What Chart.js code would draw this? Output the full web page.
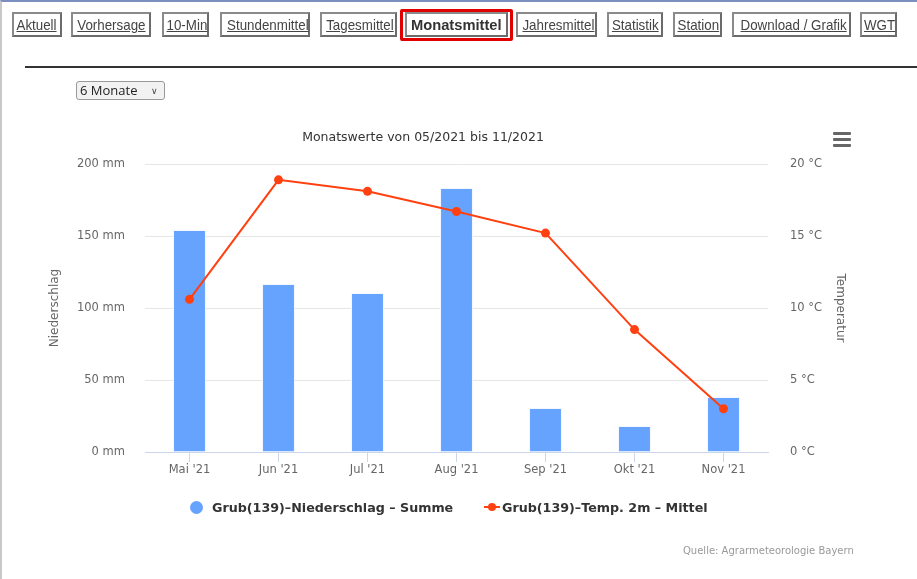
<!DOCTYPE html>
<html>
<head>
<meta charset="utf-8">
<script src="https://cdn.jsdelivr.net/npm/chart.js@4.4.0/dist/chart.umd.min.js"></script>
<style>
  html, body { margin: 0; padding: 0; background: #fff; }
  body { width: 917px; height: 579px; position: relative; overflow: hidden; }
  .frame { position: absolute; left: 0; top: 0; width: 917px; height: 579px;
           border-top: 2px solid #7a8fbf; border-left: 2px solid #c8c8c8; box-sizing: border-box; }
  .nav { position: absolute; top: 12px; height: 25px; box-sizing: border-box;
         border: 2px solid #6b6b6b; border-top-color: #8a8a8a; border-left-color: #8a8a8a;
         font: 15px "Liberation Sans", Arial, sans-serif; color: #444;
         text-align: center; line-height: 21px; white-space: nowrap; }
  .nav span { display: inline-block; text-decoration: underline; transform: scaleX(0.89); }
  .nav.active { font-weight: bold; color: #333; }
  .nav.active span { text-decoration: none; transform: scaleX(0.98); }
  .hl { position: absolute; left: 400px; top: 9px; width: 113px; height: 32px; box-sizing: border-box;
        border: 3px solid #e00000; border-radius: 2px; }
  .rule { position: absolute; left: 25px; top: 66px; width: 892px; height: 2px; background: #333; }
  .sel { position: absolute; left: 76px; top: 81px; width: 89px; height: 19px; box-sizing: border-box;
         border: 1px solid #999; border-radius: 3px; background: #f2f2f2;
         font: 13px "Open Sans", sans-serif; color: #222; line-height: 17px; padding-left: 3px; }
  .sel span { position: absolute; right: 6px; top: 0; font-size: 9px; color: #444; }
  .title { position: absolute; left: 0; width: 846px; top: 129px; text-align: center;
           font: 12.5px "DejaVu Sans", sans-serif; color: #333; }
  .menu { position: absolute; left: 833px; width: 18px; height: 3px; background: #666; border-radius: 1px; }
  .legend { position: absolute; top: 500px; font: bold 12.7px "DejaVu Sans", sans-serif; color: #333; white-space: nowrap; }
  .credits { position: absolute; left: 683px; top: 545px; font: 10px "DejaVu Sans", sans-serif; color: #999; }
  canvas { position: absolute; left: 0; top: 0; }
</style>
</head>
<body>
<div class="frame"></div>
<canvas id="chart" width="917" height="579"></canvas>
<div id="navbar"></div>
<div class="rule"></div>
<div class="sel">6 Monate<span>&#8744;</span></div>
<div class="title">Monatswerte von 05/2021 bis 11/2021</div>
<div class="menu" style="top:132px"></div>
<div class="menu" style="top:138px"></div>
<div class="menu" style="top:144px"></div>
<div id="legend"></div>
<div class="credits">Quelle: Agrarmeteorologie Bayern</div>
<script>
// Daten
var monate = ["Mai '21", "Jun '21", "Jul '21", "Aug '21", "Sep '21", "Okt '21", "Nov '21"];
var niederschlag = [154.2, 116.7, 110.4, 183.3, 30.6, 18.1, 38.2];
var temperatur = [10.6, 18.9, 18.1, 16.7, 15.2, 8.5, 3.0];
var mmTicks = [0, 50, 100, 150, 200];
var tempTicks = [0, 5, 10, 15, 20];

var navItems = ["Aktuell", "Vorhersage", "10-Min", "Stundenmittel", "Tagesmittel", "Monatsmittel",
                "Jahresmittel", "Statistik", "Station", "Download / Grafik", "WGT"];
var navBox = [[12, 50], [71, 80], [162, 47], [220, 90], [320, 77], [405, 103],
              [516, 81], [607, 56], [673, 49], [732, 119], [860, 37]];

var blau = "#66a3ff";
var rot = "#ff4010";

// Navigation
var navbar = document.getElementById("navbar");
navItems.forEach(function (txt, i) {
  var d = document.createElement("div");
  d.className = "nav" + (txt === "Monatsmittel" ? " active" : "");
  d.style.left = navBox[i][0] + "px";
  d.style.width = navBox[i][1] + "px";
  var s = document.createElement("span");
  s.textContent = txt;
  d.appendChild(s);
  navbar.appendChild(d);
});
var hl = document.createElement("div");
hl.className = "hl";
navbar.appendChild(hl);

// Legende
var legend = document.getElementById("legend");
legend.innerHTML =
  '<div class="legend" style="left:190px"><span style="display:inline-block;width:13px;height:13px;border-radius:50%;background:' + blau + ';vertical-align:-2px;margin-right:9px"></span>Grub(139)–Niederschlag – Summe</div>' +
  '<div class="legend" style="left:484px"><span style="display:inline-block;position:relative;width:16px;height:13px;vertical-align:-2px;margin-right:2px">' +
  '<span style="position:absolute;left:0;top:5px;width:16px;height:2px;background:' + rot + '"></span>' +
  '<span style="position:absolute;left:4px;top:2px;width:8px;height:8px;border-radius:50%;background:' + rot + '"></span></span>Grub(139)–Temp. 2m – Mittel</div>';

var tickFont = { family: "DejaVu Sans", size: 11.5 };

var chart = new Chart(document.getElementById("chart"), {
  data: {
    labels: monate,
    datasets: [{
      type: "line",
      label: "Grub(139)–Temp. 2m – Mittel",
      data: temperatur,
      yAxisID: "yTemp",
      borderColor: rot,
      backgroundColor: rot,
      borderWidth: 2,
      pointRadius: 4.5,
      pointBorderWidth: 0,
      tension: 0,
      order: 1
    }, {
      type: "bar",
      label: "Grub(139)–Niederschlag – Summe",
      data: niederschlag,
      yAxisID: "yMm",
      backgroundColor: blau,
      borderColor: "#f3f7ff",
      borderWidth: 1,
      barPercentage: 0.37,
      categoryPercentage: 1,
      order: 2
    }]
  },
  options: {
    responsive: false,
    animation: false,
    layout: { padding: { left: 44, right: 66, top: 164, bottom: 87 } },
    plugins: { legend: { display: false }, tooltip: { enabled: false } },
    scales: {
      x: {
        offset: true,
        grid: { offset: false, drawOnChartArea: false, drawTicks: true, tickLength: 10, color: "#ccd6eb" },
        border: { color: "#ccd6eb" },
        ticks: { color: "#666", font: tickFont, padding: 1, maxRotation: 0 },
        afterFit: function (s) { s.height = 40; }
      },
      yMm: {
        position: "left",
        min: 0, max: 200,
        afterBuildTicks: function (s) { s.ticks = mmTicks.map(function (v) { return { value: v }; }); },
        ticks: { color: "#666", font: tickFont, padding: 20, callback: function (v) { return v + " mm"; } },
        grid: { color: "#e6e6e6", drawTicks: false },
        border: { display: false },
        title: { display: true, text: "Niederschlag", color: "#666", font: { family: "DejaVu Sans", size: 12 }, padding: { top: 4, bottom: 0 } },
        afterFit: function (s) { s.width = 101; }
      },
      yTemp: {
        position: "right",
        min: 0, max: 20,
        afterBuildTicks: function (s) { s.ticks = tempTicks.map(function (v) { return { value: v }; }); },
        ticks: { color: "#666", font: tickFont, padding: 22, callback: function (v) { return v + " °C"; } },
        grid: { drawOnChartArea: false, drawTicks: false },
        border: { display: false },
        title: { display: true, text: "Temperatur", color: "#666", font: { family: "DejaVu Sans", size: 12 }, padding: { top: 4, bottom: 0 } },
        afterFit: function (s) { s.width = 83; }
      }
    }
  }
});
</script>
</body>
</html>
